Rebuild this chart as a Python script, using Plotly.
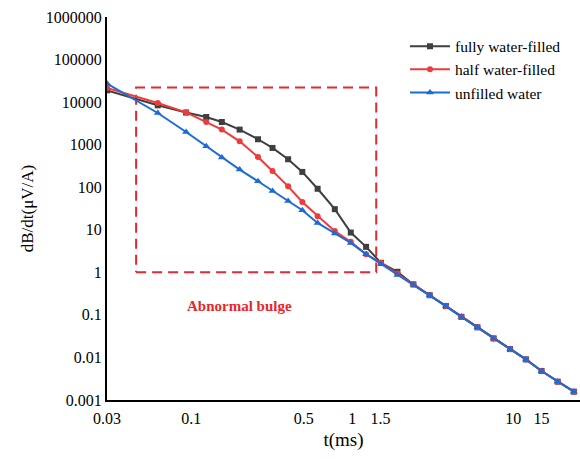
import numpy as np
import plotly.graph_objects as go

t_ms = [0.03, 0.062, 0.093, 0.124, 0.155, 0.2, 0.26, 0.32, 0.4, 0.49, 0.61, 0.78, 0.98,
        1.22, 1.51, 1.91, 2.4, 3.03, 3.82, 4.77, 6.0, 7.56, 9.57, 12.0, 15.0, 18.9, 23.8]

fully = [18900, 8410, 5670, 4470, 3410, 2260, 1340, 838, 454, 229, 92, 30.5, 8.6,
         3.97, 1.67, 1.03, 0.52, 0.29, 0.161, 0.090, 0.051, 0.028, 0.0157, 0.0090, 0.0048, 0.0027, 0.00157]
half = [21400, 9520, 5760, 3410, 2260, 1200, 514, 241, 105, 45, 20.9, 9.3, 5.2,
        2.67, 1.67, 0.94, 0.52, 0.29, 0.161, 0.090, 0.051, 0.028, 0.0157, 0.0090, 0.0048, 0.0027, 0.00157]
unfilled = [27200, 5550, 1990, 917, 498, 260, 138, 82, 47.6, 28.8, 14.5, 8.2, 4.9,
            2.67, 1.58, 0.87, 0.52, 0.29, 0.161, 0.090, 0.051, 0.028, 0.0157, 0.0090, 0.0048, 0.0027, 0.00157]

x_ticks = [0.03, 0.1, 0.5, 1, 1.5, 10, 15]
x_tick_text = ["0.03", "0.1", "0.5", "1", "1.5", "10", "15"]
y_ticks = [0.001, 0.01, 0.1, 1, 10, 100, 1000, 10000, 100000, 1000000]
y_tick_text = ["0.001", "0.01", "0.1", "1", "10", "100", "1000", "10000", "100000", "1000000"]

box_t = [0.0455, 1.41, 1.41, 0.0455, 0.0455]
box_v = [1, 1, 21900, 21900, 1]

FONT = "Liberation Serif"

fig = go.Figure()
fig.add_trace(go.Scatter(x=box_t, y=box_v, mode="lines", showlegend=False, hoverinfo="skip",
                         line=dict(color="#e8262b", width=2, dash="10px,6px")))
fig.add_trace(go.Scatter(x=t_ms, y=fully, mode="lines+markers", name="fully water-filled",
                         line=dict(color="#3f3f3f", width=2), marker=dict(symbol="square", size=6)))
fig.add_trace(go.Scatter(x=t_ms, y=half, mode="lines+markers", name="half water-filled",
                         line=dict(color="#ee3b3b", width=2), marker=dict(symbol="circle", size=6)))
fig.add_trace(go.Scatter(x=t_ms, y=unfilled, mode="lines+markers", name="unfilled water",
                         line=dict(color="#1d6bd6", width=2), marker=dict(symbol="triangle-up", size=7)))

fig.add_annotation(x=0.281, y=0.245, xref="paper", yref="paper", xanchor="center", yanchor="middle",
                   text="<b>Abnormal bulge</b>",
                   showarrow=False, font=dict(family=FONT, size=15, color="#e8262b"))

fig.update_layout(
    width=580, height=459,
    margin=dict(l=107, r=0, t=17, b=59),
    paper_bgcolor="white", plot_bgcolor="white",
    font=dict(family=FONT, size=16, color="black"),
    legend=dict(x=0.63, y=0.967, xanchor="left", yanchor="top", bgcolor="rgba(0,0,0,0)",
                font=dict(family=FONT, size=15.5), tracegroupgap=0, itemwidth=40),
    xaxis=dict(type="log", range=[np.log10(0.03), np.log10(26)], tickvals=x_ticks, ticktext=x_tick_text,
               showgrid=False, zeroline=False, showline=True, linecolor="black", linewidth=2,
               ticks="outside", ticklen=3, tickcolor="rgba(0,0,0,0)", tickfont=dict(family=FONT, size=16),
               title=dict(text="t(ms)", font=dict(family=FONT, size=19), standoff=6)),
    yaxis=dict(type="log", range=[-3, 6], tickvals=y_ticks, ticktext=y_tick_text,
               showgrid=False, zeroline=False, showline=True, linecolor="black", linewidth=2,
               ticks="", tickfont=dict(family=FONT, size=16),
               title=dict(text="dB/dt(μV/A)", font=dict(family=FONT, size=17), standoff=8)),
)

fig.write_html("out.html")
